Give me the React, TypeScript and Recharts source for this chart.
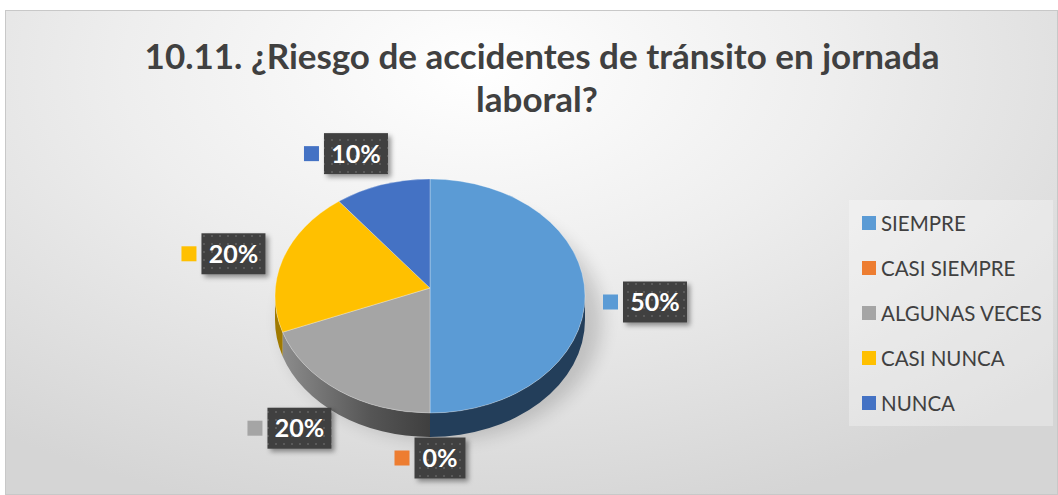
import { Legend, Pie, PieChart } from "recharts";

const categories = ["SIEMPRE", "CASI SIEMPRE", "ALGUNAS VECES", "CASI NUNCA", "NUNCA"];
const percentages = [50, 0, 20, 20, 10];
const topColors = ["#5b9bd5", "#ed7d31", "#a5a5a5", "#ffc000", "#4472c4"];
const sideColors = ["#233e5a", "#9a4f1c", "url(#sideGray)", "#a07a00", "#2b4a80"];

const data = categories.map((name, i) => ({ name, value: percentages[i] }));

const W = 1058;
const H = 495;
const TILT = 0.755; // vertical squash of the pie
const DEPTH = 24; // thickness of the 3d side
const HUB_LIFT = 8; // perspective: slices meet a bit above the ellipse centre
const RAD = Math.PI / 180;
const FONT = "Lato, 'Open Sans', sans-serif";

function TopFace(props: any) {
  const { cx, cy, outerRadius, startAngle, endAngle, index } = props;
  if (startAngle === endAngle) return null;
  const rx = outerRadius;
  const ry = outerRadius * TILT;
  const p = (a: number) => `${cx + rx * Math.cos(-a * RAD)},${cy + ry * Math.sin(-a * RAD)}`;
  const large = Math.abs(startAngle - endAngle) > 180 ? 1 : 0;
  const sweep = startAngle > endAngle ? 1 : 0;
  return (
    <path
      d={`M${cx},${cy - HUB_LIFT} L${p(startAngle)} A${rx},${ry} 0 ${large} ${sweep} ${p(endAngle)} Z`}
      fill={topColors[index]}
      stroke="rgba(255,255,255,0.4)"
      strokeWidth={0.75}
    />
  );
}

function SideWall(props: any) {
  const { cx, cy, outerRadius, startAngle, endAngle, index } = props;
  const rx = outerRadius;
  const ry = outerRadius * TILT;
  let ts = -startAngle;
  let te = -endAngle;
  if (te - ts <= 0) return null;
  while (ts < 0) {
    ts += 360;
    te += 360;
  }
  while (ts >= 360) {
    ts -= 360;
    te -= 360;
  }
  const parts: number[][] = [];
  for (const [lo, hi] of [[0, 180], [360, 540]]) {
    const u = Math.max(ts, lo);
    const v = Math.min(te, hi);
    if (v > u) parts.push([u, v]);
  }
  const q = (t: number, dy: number) => `${cx + rx * Math.cos(t * RAD)},${cy + ry * Math.sin(t * RAD) + dy}`;
  return (
    <g>
      {parts.map(([u, v], k) => (
        <path
          key={k}
          d={`M${q(u, 0)} A${rx},${ry} 0 0 1 ${q(v, 0)} L${q(v, DEPTH)} A${rx},${ry} 0 0 0 ${q(u, DEPTH)} Z`}
          fill={sideColors[index]}
        />
      ))}
    </g>
  );
}

function DataLabel(props: any) {
  const { cx, cy, midAngle, index, value } = props;
  const c = Math.cos(-midAngle * RAD);
  const s = Math.sin(-midAngle * RAD);
  const lx = cx + 215 * Math.sign(c) * Math.pow(Math.abs(c), 0.8);
  const ly = cy + 6 + 156 * s;
  const text = `${value}%`;
  const boxW = (text.length - 1) * 13 + 20 + 18;
  const total = 15 + 5 + boxW;
  const left = lx - total / 2;
  return (
    <g>
      <rect x={left} y={ly - 7.5} width={15} height={15} fill={topColors[index]} />
      <rect x={left + 20} y={ly - 20.5} width={boxW} height={41} fill="url(#dots)" filter="url(#lblShadow)" />
      <text
        x={left + 20 + boxW / 2}
        y={ly}
        dy="0.36em"
        textAnchor="middle"
        fill="#ffffff"
        fontSize={25}
        fontWeight={700}
        fontFamily={FONT}
      >
        {text}
      </text>
    </g>
  );
}

function LegendBox() {
  return (
    <div
      style={{
        width: 204,
        height: 226,
        background: "rgba(255,255,255,0.3)",
        boxSizing: "border-box",
        paddingTop: 0,
      }}
    >
      {categories.map((name, i) => (
        <div key={name} style={{ display: "flex", alignItems: "center", height: 45, paddingLeft: 13 }}>
          <span style={{ width: 14, height: 14, background: topColors[i], marginRight: 5, display: "inline-block" }} />
          <span style={{ fontFamily: FONT, fontSize: 20.5, color: "#404040", lineHeight: "22px" }}>{name}</span>
        </div>
      ))}
    </div>
  );
}

export default function App() {
  return (
    <div style={{ position: "fixed", left: 0, top: 0, width: W, height: H, background: "#ffffff", overflow: "hidden" }}>
      <div
        style={{
          position: "absolute",
          left: 5,
          top: 10,
          width: W - 5,
          height: H - 10,
          border: "1px solid #c8c8c8",
          boxSizing: "border-box",
          background: "radial-gradient(ellipse 75% 95% at 45% 12%, #ffffff 0%, #eeeeee 45%, #d5d5d5 100%)",
        }}
      />
      <div style={{ position: "absolute", left: 0, top: 0 }}>
        <PieChart width={W} height={H} margin={{ top: 0, right: 0, bottom: 0, left: 0 }}>
          <defs>
            <pattern id="dots" width="8" height="8" patternUnits="userSpaceOnUse">
              <rect width="8" height="8" fill="#404040" />
              <rect x="3" y="3" width="2" height="2" fill="#5a5a5a" />
            </pattern>
            <filter id="lblShadow" x="-20%" y="-20%" width="150%" height="160%">
              <feDropShadow dx="3" dy="3" stdDeviation="2.5" floodColor="#000" floodOpacity="0.4" />
            </filter>
            <filter id="pieShadow" x="-30%" y="-30%" width="160%" height="160%">
              <feGaussianBlur stdDeviation="9" />
            </filter>
            <linearGradient id="sideGray" x1="0" x2="1" y1="0" y2="0">
              <stop offset="0" stopColor="#8c8c8c" />
              <stop offset="0.6" stopColor="#555555" />
              <stop offset="1" stopColor="#3f3f3f" />
            </linearGradient>
          </defs>
          <ellipse cx={442} cy={320} rx={160} ry={120} fill="#000" opacity={0.16} filter="url(#pieShadow)" />
          <text x={542} y={69} textAnchor="middle" fontFamily={FONT} fontSize={35} fontWeight={700} fill="#404040">
            10.11. ¿Riesgo de accidentes de tránsito en jornada
          </text>
          <text x={537} y={112} textAnchor="middle" fontFamily={FONT} fontSize={35} fontWeight={700} fill="#404040">
            laboral?
          </text>
          <Pie
            data={data}
            dataKey="value"
            nameKey="name"
            cx={430}
            cy={296}
            outerRadius={155}
            startAngle={90}
            endAngle={-270}
            fill="transparent"
            stroke="none"
            legendType="none"
            labelLine={false}
            label={SideWall}
            isAnimationActive={false}
          />
          <Pie
            data={data}
            dataKey="value"
            nameKey="name"
            cx={430}
            cy={296}
            outerRadius={155}
            startAngle={90}
            endAngle={-270}
            fill="transparent"
            stroke="none"
            legendType="none"
            labelLine={false}
            label={TopFace}
            isAnimationActive={false}
          />
          <Pie
            data={data}
            dataKey="value"
            nameKey="name"
            cx={430}
            cy={296}
            outerRadius={155}
            startAngle={90}
            endAngle={-270}
            fill="transparent"
            stroke="none"
            labelLine={false}
            label={DataLabel}
            isAnimationActive={false}
          />
          <Legend
            layout="vertical"
            align="right"
            verticalAlign="top"
            content={() => <LegendBox />}
            wrapperStyle={{ left: 849, top: 200, width: 204, height: 226 }}
          />
        </PieChart>
      </div>
    </div>
  );
}
